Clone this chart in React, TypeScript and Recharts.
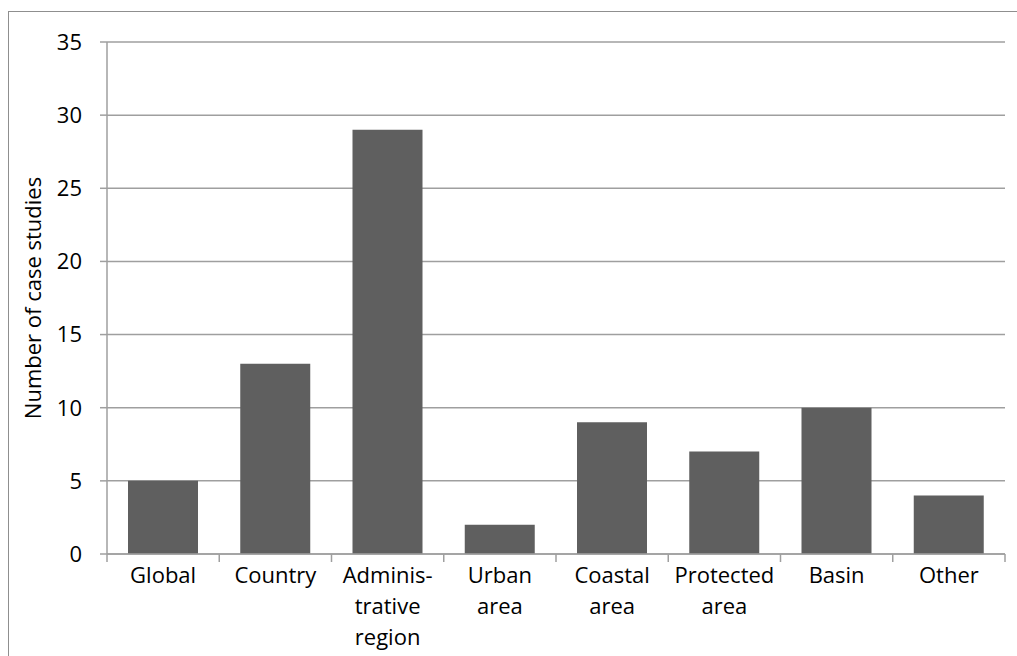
import { Bar, BarChart, CartesianGrid, XAxis, YAxis } from 'recharts'

const categories = [
  'Global',
  'Country',
  'Adminis-\ntrative\nregion',
  'Urban\narea',
  'Coastal\narea',
  'Protected\narea',
  'Basin',
  'Other',
]
const caseStudies = [5, 13, 29, 2, 9, 7, 10, 4]
const yTicks = [0, 5, 10, 15, 20, 25, 30, 35]

const data = categories.map((name, i) => ({ name, value: caseStudies[i] }))

const WIDTH = 1017
const HEIGHT = 656
const MARGIN = { top: 42, right: 12, left: 0, bottom: 0 }
const Y_AXIS_WIDTH = 107
const PLOT_WIDTH = WIDTH - MARGIN.left - MARGIN.right - Y_AXIS_WIDTH
const BAND = PLOT_WIDTH / categories.length

const GRID = '#9f9f9f'
const FONT = "'Open Sans', sans-serif"

// eslint-disable-next-line @typescript-eslint/no-explicit-any
function CategoryTick(props: any) {
  const { x, y, payload, index } = props
  const lines = String(payload.value).split('\n')
  const last = index === categories.length - 1
  return (
    <g>
      <line x1={x - BAND / 2} y1={y} x2={x - BAND / 2} y2={y + 8} stroke={GRID} strokeWidth={1.5} />
      {last && <line x1={x + BAND / 2} y1={y} x2={x + BAND / 2} y2={y + 8} stroke={GRID} strokeWidth={1.5} />}
      <text x={x} y={y + 29} textAnchor="middle" fontFamily={FONT} fontSize={22} fill="#000">
        {lines.map((line, i) => (
          <tspan key={i} x={x} dy={i === 0 ? 0 : 31}>
            {line}
          </tspan>
        ))}
      </text>
    </g>
  )
}

export default function App() {
  return (
    <div style={{ position: 'relative', width: WIDTH, height: HEIGHT, overflow: 'hidden' }}>
      <style>{'body{margin:0;overflow:hidden;}'}</style>
      <div
        style={{
          position: 'absolute',
          left: 8,
          top: 11,
          width: WIDTH,
          height: HEIGHT,
          borderLeft: '1.5px solid #8f8f8f',
          borderTop: '1.5px solid #8f8f8f',
        }}
      />
      <div style={{ position: 'absolute', left: 0, top: 0 }}>
        <BarChart width={WIDTH} height={HEIGHT} data={data} margin={MARGIN}>
          <CartesianGrid vertical={false} stroke={GRID} strokeWidth={1.5} />
          <XAxis
            dataKey="name"
            height={HEIGHT - 554}
            axisLine={{ stroke: GRID, strokeWidth: 1.5 }}
            tickLine={false}
            tickSize={0}
            tickMargin={0}
            interval={0}
            tick={<CategoryTick />}
          />
          <YAxis
            width={Y_AXIS_WIDTH}
            domain={[0, 35]}
            ticks={yTicks}
            interval={0}
            axisLine={{ stroke: GRID, strokeWidth: 1.5 }}
            tickLine={{ stroke: GRID, strokeWidth: 1.5 }}
            tickSize={7}
            tickMargin={18}
            tick={{ fontFamily: FONT, fontSize: 22, fill: '#000' }}
            label={{
              // eslint-disable-next-line @typescript-eslint/no-explicit-any
              content: (p: any) => {
                const cy = p.viewBox.y + p.viewBox.height / 2
                return (
                  <text
                    x={32}
                    y={cy}
                    transform={`rotate(-90 32 ${cy})`}
                    textAnchor="middle"
                    dominantBaseline="central"
                    fontFamily={FONT}
                    fontSize={22}
                    fill="#000"
                  >
                    Number of case studies
                  </text>
                )
              },
            }}
          />
          <Bar dataKey="value" fill="#5f5f5f" barSize={70} isAnimationActive={false} />
        </BarChart>
      </div>
    </div>
  )
}
